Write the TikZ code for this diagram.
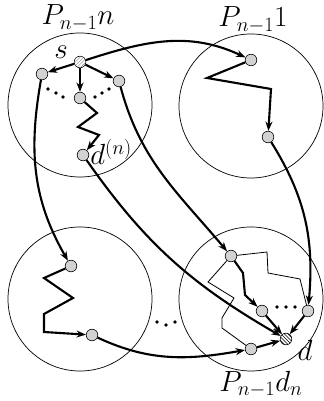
\documentclass[tikz,border=0pt]{standalone}
\usepackage{amsmath}
\usepackage{tikz}
\usetikzlibrary{arrows.meta, positioning, patterns}

\begin{document}
\begin{tikzpicture}[x=0.03cm, y=0.03cm,
    region/.style={circle, draw, line width=0.6pt, minimum size=4.32cm, inner sep=0},
    vert/.style={circle, draw, line width=0.5pt, fill=gray!35, minimum size=0.35cm, inner sep=0},
    srcvert/.style={vert, fill=white, postaction={pattern=north east lines, pattern color=gray}},
    dstvert/.style={vert, fill=white, postaction={pattern=north west lines}},
    lab/.style={font=\fontsize{24}{28}\selectfont, inner sep=1pt},
    flow/.style={line width=1.8pt, -{Stealth[length=8pt, width=6pt]}},
    walk/.style={line width=0.7pt}]
    \useasboundingbox (0,0) rectangle (323,401);

    \node[region] (cn) at (80,296) {};
    \node[region] (c1) at (251,295) {};
    \node[region] (cx) at (80,102) {};
    \node[region] (cd) at (251,102) {};
    \node[lab] (cnlab) at (78,383) {$P_{n-1}n$};
    \node[lab] (c1lab) at (253,381) {$P_{n-1}1$};
    \node[lab] (cdlab) at (261,17) {$P_{n-1}d_n$};

    \node[srcvert] (s) at (80,339) {};
    \node[lab] (slab) at (61,349) {$s$};
    \node[vert] (sl) at (42,327) {};
    \node[vert] (sm) at (80,303) {};
    \node[vert] (sr) at (119,320) {};
    \node[vert] (dn) at (83,246) {};
    \node[lab, anchor=west] (dnlab) at (89,249) {$d^{(n)}$};
    \foreach \x/\y in {48/312, 56/308, 63/304, 95/304, 102/308, 109/312}
        \fill (\x,\y) circle (1.8);
    \draw[flow] (s) -- (sl);
    \draw[flow] (s) -- (sm);
    \draw[flow] (s) -- (sr);
    \draw[flow] (sm) -- (97,288) -- (78,274) -- (99,266) -- (dn);

    \node[vert] (t1) at (251,341) {};
    \node[vert] (t2) at (268,264) {};
    \draw[flow] (t1) -- (207,323) -- (271,312) -- (t2);

    \node[vert] (b1) at (71,135) {};
    \node[vert] (b2) at (92,66) {};
    \draw[flow] (b1) -- (44,123) -- (73,103) -- (44,87) -- (44,69) -- (b2);

    \node[vert] (ra) at (231,145) {};
    \node[vert] (rb) at (262,90) {};
    \node[vert] (rc) at (308,90) {};
    \node[vert] (re) at (251,52) {};
    \node[dstvert] (d) at (286,62) {};
    \node[lab] (dlab) at (305,51) {$d$};
    \foreach \x in {277, 286, 295}
        \fill (\x,94) circle (1.8);
    \foreach \x/\y in {157/79, 166/76, 175/79}
        \fill (\x,\y) circle (1.8);
    \draw[walk] (ra) -- (267,149) -- (268,128) -- (300,122) -- (rc);
    \draw[walk] (ra) -- (208,119) -- (234,103) -- (222,83) -- (222,73) -- (re);
    \draw[flow] (ra) -- (243,128) -- (245,106) -- (rb);
    \draw[flow] (rb) -- (d);
    \draw[flow] (rc) -- (d);
    \draw[flow] (re) -- (d);

    \draw[flow] (s) to[out=18, in=155] (t1);
    \draw[flow] (sl) to[out=-100, in=120] (b1);
    \draw[flow] (sr) to[out=-75, in=130] (ra);
    \draw[flow] (dn) to[out=-55, in=150] (d);
    \draw[flow] (t2) to[out=-58, in=85] (rc);
    \draw[flow] (b2) to[out=-25, in=190] (re);
\end{tikzpicture}
\end{document}
